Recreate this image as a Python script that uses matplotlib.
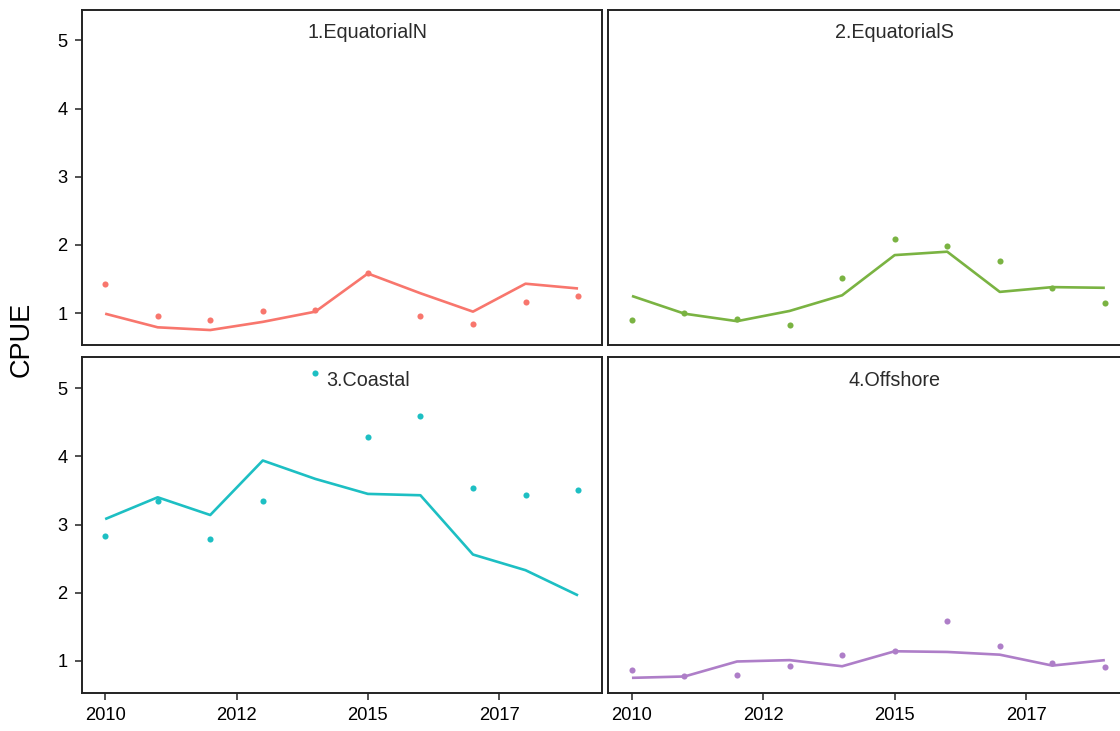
import matplotlib
matplotlib.use("Agg")
import matplotlib.pyplot as plt

plt.rcParams['font.family'] = ['Liberation Sans', 'DejaVu Sans']

years = [2010, 2011, 2012, 2013, 2014, 2015, 2016, 2017, 2018, 2019]

regions = ["1.EquatorialN", "2.EquatorialS", "3.Coastal", "4.Offshore"]
colors = ["#F8766D", "#7AB342", "#1DBFC3", "#AE7EC8"]

# observed nominal CPUE per region
obs_equatorial_n = [1.43, 0.96, 0.90, 1.03, 1.04, 1.59, 0.96, 0.84, 1.16, 1.25]
obs_equatorial_s = [0.90, 1.00, 0.91, 0.82, 1.51, 2.08, 1.99, 1.77, 1.37, 1.14]
obs_coastal      = [2.83, 3.35, 2.79, 3.34, 5.23, 4.29, 4.59, 3.54, 3.44, 3.50]
obs_offshore     = [0.86, 0.77, 0.79, 0.93, 1.08, 1.15, 1.58, 1.22, 0.97, 0.91]

# standardised CPUE index per region
fit_equatorial_n = [0.99, 0.79, 0.75, 0.87, 1.02, 1.58, 1.29, 1.02, 1.43, 1.36]
fit_equatorial_s = [1.25, 0.99, 0.88, 1.03, 1.26, 1.85, 1.90, 1.31, 1.38, 1.37]
fit_coastal      = [3.08, 3.40, 3.14, 3.94, 3.67, 3.45, 3.43, 2.56, 2.33, 1.96]
fit_offshore     = [0.75, 0.77, 0.99, 1.01, 0.92, 1.14, 1.13, 1.09, 0.93, 1.01]

observed = [obs_equatorial_n, obs_equatorial_s, obs_coastal, obs_offshore]
fitted = [fit_equatorial_n, fit_equatorial_s, fit_coastal, fit_offshore]

x_ticks = [2010, 2012.5, 2015, 2017.5]
x_tick_labels = ["2010", "2012", "2015", "2017"]
y_ticks = [1, 2, 3, 4, 5]

W, H = 1120, 731
fig = plt.figure(figsize=(W / 100, H / 100), dpi=100)

panel_w = 520.2
panel_h = 335.8
lefts = [81.5, 608.3]
tops = [9.5, 357.3]

label_color = "#2b2b2b"
frame_color = "#222222"

for i, name in enumerate(regions):
    row, col = divmod(i, 2)
    x0 = lefts[col] / W
    y0 = (H - tops[row] - panel_h) / H
    ax = fig.add_axes([x0, y0, panel_w / W, panel_h / H])

    ax.plot(years, fitted[i], color=colors[i], lw=1.9, solid_capstyle='butt', zorder=2)
    ax.plot(years, observed[i], 'o', color=colors[i], ms=4.4, mec='none', zorder=3)

    ax.set_xlim(2009.55, 2019.45)
    ax.set_ylim(0.526, 5.455)

    ax.text(2015, 5.12, name, ha='center', va='center', fontsize=14.2,
            color=label_color)

    for s in ax.spines.values():
        s.set_color(frame_color)
        s.set_linewidth(1.4)

    ax.tick_params(length=5, width=1.1, color=frame_color, pad=5,
                   labelsize=13.2, labelcolor='black')

    if col == 0:
        ax.set_yticks(y_ticks)
    else:
        ax.set_yticks([])
    if row == 1:
        ax.set_xticks(x_ticks)
        ax.set_xticklabels(x_tick_labels)
    else:
        ax.set_xticks([])

fig.text(22 / W, (H - 339) / H, "CPUE", rotation=90, ha='center', va='center',
         fontsize=19.5, color='black')

fig.savefig("out.png", dpi=100)
